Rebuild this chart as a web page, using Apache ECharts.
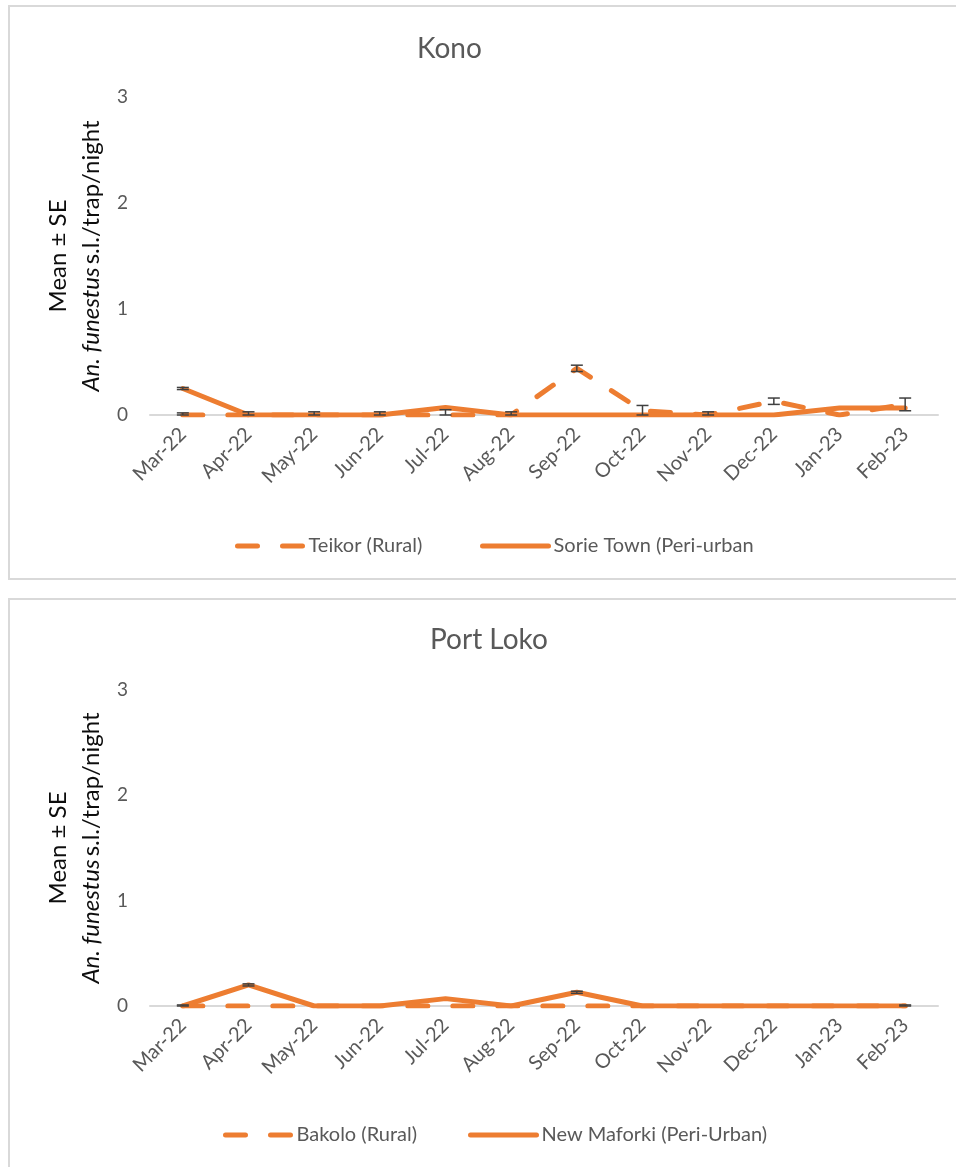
<!DOCTYPE html>
<html>
<head>
<meta charset="utf-8">
<script src="https://cdn.jsdelivr.net/npm/echarts@6/dist/echarts.min.js"></script>
<style>
  html, body { margin: 0; padding: 0; background: #ffffff; }
  #chart { width: 956px; height: 1167px; }
</style>
</head>
<body>
<div id="chart"></div>
<script>
// Monthly mean (± SE) An. funestus s.l. per trap per night, two districts
const months = ['Mar-22', 'Apr-22', 'May-22', 'Jun-22', 'Jul-22', 'Aug-22',
                'Sep-22', 'Oct-22', 'Nov-22', 'Dec-22', 'Jan-23', 'Feb-23'];
const yTicks = [0, 1, 2, 3];

// Kono district
const teikorMean    = [0, 0, 0, 0, 0, 0, 0.44, 0.04, 0, 0.13, 0, 0.10];
const teikorSE      = [0.02, 0.03, 0.03, 0.03, 0.05, 0.03, 0.03, 0.05, 0.03, 0.03, 0, 0.06];
const sorieTownMean = [0.25, 0, 0, 0, 0.07, 0, 0, 0, 0, 0, 0.065, 0.065];
const sorieTownSE   = [0.01, 0, 0, 0, 0, 0, 0, 0, 0, 0, 0, 0];

// Port Loko district
const bakoloMean     = [0, 0, 0, 0, 0, 0, 0, 0, 0, 0, 0, 0];
const bakoloSE       = [0, 0, 0, 0, 0, 0, 0, 0, 0, 0, 0, 0];
const newMaforkiMean = [0, 0.20, 0, 0, 0.07, 0, 0.13, 0, 0, 0, 0, 0];
const newMaforkiSE   = [0.01, 0.01, 0, 0, 0, 0, 0.01, 0, 0, 0, 0, 0.01];

const ORANGE = '#ED7D31';
const GREY_TEXT = '#595959';
const FONT = 'Lato, "Noto Sans", sans-serif';
const DASH = [20, 25];

const chart = echarts.init(document.getElementById('chart'), null, { renderer: 'canvas' });

function errorBars(name, gridIdx, means, ses) {
  const data = [];
  means.forEach((m, i) => {
    if (ses[i] > 0) data.push([i, Math.max(0, m - ses[i]), m + ses[i]]);
  });
  return {
    name: name,
    type: 'custom',
    xAxisIndex: gridIdx,
    yAxisIndex: gridIdx,
    z: 5,
    silent: true,
    data: data,
    renderItem: function (params, api) {
      const x = api.value(0);
      const lo = api.coord([x, api.value(1)]);
      const hi = api.coord([x, api.value(2)]);
      const half = 6;
      const style = { stroke: '#404040', lineWidth: 1.5 };
      return {
        type: 'group',
        children: [
          { type: 'line', shape: { x1: hi[0], y1: hi[1], x2: lo[0], y2: lo[1] }, style: style },
          { type: 'line', shape: { x1: hi[0] - half, y1: hi[1], x2: hi[0] + half, y2: hi[1] }, style: style },
          { type: 'line', shape: { x1: lo[0] - half, y1: lo[1], x2: lo[0] + half, y2: lo[1] }, style: style }
        ]
      };
    }
  };
}

function lineSeries(name, gridIdx, values, dashed) {
  return {
    name: name,
    type: 'line',
    xAxisIndex: gridIdx,
    yAxisIndex: gridIdx,
    data: values,
    symbol: 'none',
    z: dashed ? 2 : 3,
    lineStyle: {
      color: ORANGE,
      width: 5,
      type: dashed ? DASH : 'solid',
      cap: 'round',
      join: 'round'
    },
    itemStyle: { color: ORANGE }
  };
}

function xAxis(gridIdx) {
  return {
    type: 'category',
    gridIndex: gridIdx,
    data: months,
    boundaryGap: true,
    axisLine: { show: true, lineStyle: { color: '#d9d9d9', width: 2 } },
    axisTick: { show: false },
    axisLabel: {
      rotate: 45,
      interval: 0,
      margin: 16,
      color: GREY_TEXT,
      fontFamily: FONT,
      fontSize: 20
    },
    splitLine: { show: false }
  };
}

function yAxis(gridIdx) {
  return {
    type: 'value',
    gridIndex: gridIdx,
    min: yTicks[0],
    max: yTicks[yTicks.length - 1],
    interval: 1,
    axisLine: { show: false },
    axisTick: { show: false },
    splitLine: { show: false },
    axisLabel: {
      margin: 22,
      color: GREY_TEXT,
      fontFamily: FONT,
      fontSize: 19
    },
    name: '{m|Mean ± SE}\n{i|An. funestus} {n|s.l./trap/night}',
    nameLocation: 'middle',
    nameRotate: 90,
    nameGap: 42,
    nameTextStyle: {
      fontFamily: FONT,
      color: '#0d0d0d',
      rich: {
        m: { fontFamily: FONT, fontSize: 24, lineHeight: 33, color: '#0d0d0d' },
        i: { fontFamily: FONT, fontSize: 24, lineHeight: 33, fontStyle: 'italic', color: '#0d0d0d' },
        n: { fontFamily: FONT, fontSize: 24, lineHeight: 33, color: '#0d0d0d' }
      }
    }
  };
}

function legend(name, left, top) {
  return {
    data: [name],
    left: left,
    top: top,
    orient: 'horizontal',
    itemWidth: 66,
    itemHeight: 14,
    selectedMode: false,
    textStyle: { color: GREY_TEXT, fontFamily: FONT, fontSize: 20 },
    // line-only key: the point marker is made invisible
    itemStyle: { color: 'rgba(0,0,0,0)', opacity: 0, borderWidth: 0 },
    lineStyle: { color: ORANGE, width: 5, cap: 'round' }
  };
}

const option = {
  animation: false,
  backgroundColor: '#ffffff',
  textStyle: { fontFamily: FONT },
  graphic: [
    { type: 'rect', z: -10, shape: { x: 9, y: 6, width: 1000, height: 573 },
      style: { fill: 'none', stroke: '#d9d9d9', lineWidth: 2 } },
    { type: 'rect', z: -10, shape: { x: 9, y: 599, width: 1000, height: 700 },
      style: { fill: 'none', stroke: '#d9d9d9', lineWidth: 2 } }
  ],
  title: [
    { text: 'Kono', left: 412, top: 30,
      textStyle: { color: GREY_TEXT, fontFamily: FONT, fontSize: 28, fontWeight: 'normal' } },
    { text: 'Port Loko', left: 425, top: 621,
      textStyle: { color: GREY_TEXT, fontFamily: FONT, fontSize: 28, fontWeight: 'normal' } }
  ],
  legend: [
    legend('Teikor (Rural)', 230, 531),
    legend('Sorie Town (Peri-urban', 475, 531),
    legend('Bakolo (Rural)', 218, 1120),
    legend('New Maforki (Peri-Urban)', 463, 1120)
  ],
  grid: [
    { left: 150, width: 788, top: 97, height: 318, outerBoundsMode: 'none' },
    { left: 150, width: 788, top: 690, height: 316, outerBoundsMode: 'none' }
  ],
  xAxis: [xAxis(0), xAxis(1)],
  yAxis: [yAxis(0), yAxis(1)],
  series: [
    lineSeries('Teikor (Rural)', 0, teikorMean, true),
    lineSeries('Sorie Town (Peri-urban', 0, sorieTownMean, false),
    errorBars('Teikor SE', 0, teikorMean, teikorSE),
    errorBars('Sorie Town SE', 0, sorieTownMean, sorieTownSE),
    lineSeries('Bakolo (Rural)', 1, bakoloMean, true),
    lineSeries('New Maforki (Peri-Urban)', 1, newMaforkiMean, false),
    errorBars('Bakolo SE', 1, bakoloMean, bakoloSE),
    errorBars('New Maforki SE', 1, newMaforkiMean, newMaforkiSE)
  ]
};

chart.setOption(option);
</script>
</body>
</html>
